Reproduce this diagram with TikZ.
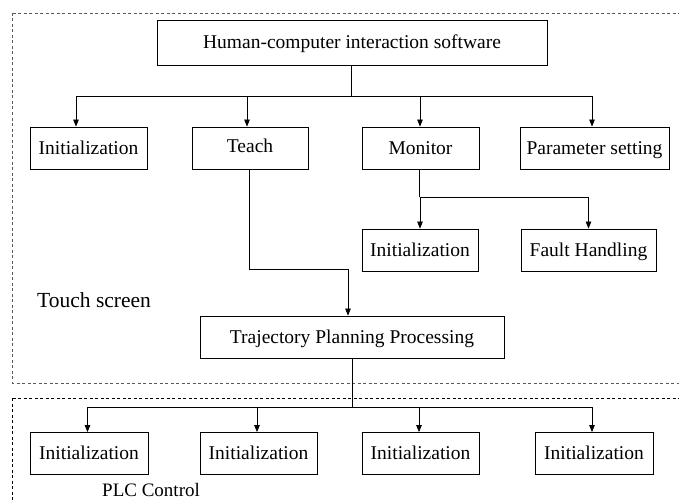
\documentclass[tikz,border=0pt]{standalone}
\usepackage{fontspec}
\setmainfont{Liberation Serif}
\usetikzlibrary{arrows.meta}
\begin{document}
\begin{tikzpicture}[x=1pt,y=-1pt,
  box/.style={draw, line width=0.8pt, inner sep=0pt, minimum height=42pt, text height=12.5pt, text depth=0pt, font=\fontsize{19.5}{22}\selectfont},
  conn/.style={line width=0.7pt},
  arr/.style={conn,-{Triangle[length=7pt,width=5.5pt]}},
  frame/.style={line width=0.6pt, dash pattern=on 3pt off 2.5pt},
  lbl/.style={inner sep=0pt, font=\fontsize{21.5}{24}\selectfont}]
\useasboundingbox (0,0) rectangle (679,500);
% frames
\draw[frame, black!65] (12.5,13) rectangle (700,383);
\draw[frame] (12.5,398) -- (700,398);
\draw[frame] (12.5,398) -- (12.5,510);
% top
\node[box, minimum width=390pt, minimum height=45pt] (hci) at (352,42.5) {Human-computer interaction software};
% row 1
\node[box, minimum width=117pt] (init1) at (88.5,148) {Initialization};
\node[box, minimum width=116pt] (teach) at (250,148) {\raisebox{2pt}{Teach}};
\node[box, minimum width=117pt] (mon) at (420.5,148) {Monitor};
\node[box, minimum width=149pt] (param) at (594.5,148) {Parameter setting};
% row 2
\node[box, minimum width=116pt] (init2) at (420,250) {Initialization};
\node[box, minimum width=135pt] (fault) at (588.5,250) {Fault Handling};
% trajectory
\node[box, minimum width=304pt] (traj) at (352,337) {Trajectory Planning Processing};
% row 3
\node[box, minimum width=118pt] (p1) at (89,453.5) {Initialization};
\node[box, minimum width=117pt] (p2) at (258.5,453.5) {Initialization};
\node[box, minimum width=117pt] (p3) at (420.5,453.5) {Initialization};
\node[box, minimum width=118pt] (p4) at (594,453.5) {Initialization};
% labels
\node[lbl, anchor=base west] (ts) at (37,307) {Touch screen};
\node[lbl, anchor=base west, font=\fontsize{19}{21}\selectfont] (plc) at (102,496) {PLC Control};
% connectors
\draw[conn] ([xshift=-1pt]hci.south) -- ++(0,31) coordinate (b1);
\draw[arr] (b1) -| ([xshift=-12.5pt]init1.north);
\draw[arr] (b1) -| ([xshift=-3pt]teach.north);
\draw[arr] (b1) -| ([xshift=-0.5pt]mon.north);
\draw[arr] (b1) -| ([xshift=-2.5pt]param.north);
\draw[conn] ([xshift=-1pt]mon.south) -- ++(0,28) coordinate (b2);
\draw[arr] (b2) -| (init2.north);
\draw[arr] (b2) -| (fault.north);
\draw[arr] ([xshift=-1pt]teach.south) -- ++(0,100) -| ([xshift=-4pt]traj.north);
\draw[conn] (traj.south) -- ++(0,49) coordinate (b3);
\draw[arr] (b3) -| ([xshift=-1.5pt]p1.north);
\draw[arr] (b3) -| ([xshift=-1.5pt]p2.north);
\draw[arr] (b3) -| ([xshift=-1.5pt]p3.north);
\draw[arr] (b3) -| ([xshift=-2pt]p4.north);
\end{tikzpicture}
\end{document}
